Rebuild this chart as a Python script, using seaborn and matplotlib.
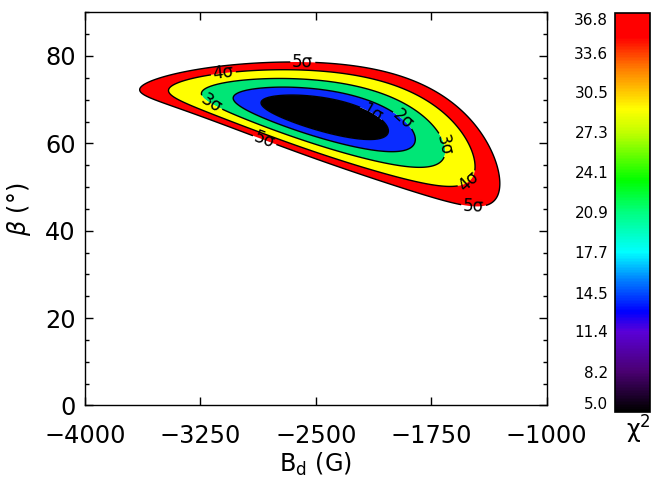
import numpy as np
import seaborn as sns
import matplotlib
matplotlib.use("Agg")
import matplotlib.pyplot as plt
from matplotlib.colors import LinearSegmentedColormap, Normalize
from matplotlib.cm import ScalarMappable
from matplotlib.ticker import MultipleLocator

sns.set_style("ticks", {"axes.edgecolor": "black", "xtick.color": "black", "ytick.color": "black",
                        "text.color": "black", "axes.labelcolor": "black"})
plt.rcParams['font.family'] = ['DejaVu Sans']
plt.rcParams['mathtext.default'] = 'regular'

# --- axes ---
bd_lim = [-4000, -1000]
beta_lim = [0, 90]
bd_ticks = [-4000, -3250, -2500, -1750, -1000]
beta_ticks = [0, 20, 40, 60, 80]

# --- chi2 levels (1..5 sigma) and fill colours ---
chi2_min = 5.0
chi2_max = 36.8
sigma_names = ['1σ', '2σ', '3σ', '4σ', '5σ']
chi2_levels = [8.9, 13.0, 19.4, 27.9, 36.8]
band_colors = ['#000000', '#0a2cff', '#00e676', '#ffff00', '#ff0000']

# colour bar
bar_ticks = [5.0, 8.2, 11.4, 14.5, 17.7, 20.9, 24.1, 27.3, 30.5, 33.6, 36.8]
bar_nodes = [0.0, 0.10, 0.20, 0.25, 0.33, 0.40, 0.50, 0.58, 0.70, 0.76, 0.86, 0.94, 1.0]
bar_colors = ['#000000', '#4a0072', '#5a00d8', '#0000ff', '#0080ff', '#00ffff', '#00ff80',
              '#00ff00', '#c0ff00', '#ffff00', '#ff8000', '#ff0000', '#ff0000']

# shape of the chi2 valley (screen-like units)
best_bd = -2440.0
best_beta = 66.4
px_per_gauss = 0.154
px_per_deg = 4.37
tilt = 13.0
half_len = 65.5
half_wid = 16.8
bend = [-4.0, -1.45, -0.95]   # t^2, t^3, t^4 terms, t = along-axis / 100
widen = 0.0026
skew = -0.03
chi2_scale = 3.916

# where the sigma labels sit
label_bd = [-2584, -2843, -1479, -3103, -1511, -3188, -1674, -1934, -2129]
label_beta = [80.3, 59.8, 43.2, 76.6, 51.6, 68.7, 59.6, 65.4, 67.6]

# chi2 surface
bd = np.linspace(bd_lim[0], bd_lim[1], 700)
beta = np.linspace(beta_lim[0], beta_lim[1], 450)
BD, BETA = np.meshgrid(bd, beta)
dx = (BD - best_bd) * px_per_gauss
dy = (BETA - best_beta) * px_per_deg
a = np.radians(tilt)
p = dx * np.cos(a) - dy * np.sin(a)
q = dx * np.sin(a) + dy * np.cos(a)
t = p / 100.0
qc = bend[0] * t**2 + bend[1] * t**3 + bend[2] * t**4
w = np.clip(1 + widen * p, 0.2, None)
v = np.clip((q - qc) / (half_wid * w), -10, 10)
v = v + skew * v**2
chi2 = chi2_min + chi2_scale * ((p / half_len)**2 + v**2)

fig = plt.figure(figsize=(6.58, 4.78), dpi=100)
ax = fig.add_axes([0.1292, 0.1517, 0.7017, 0.8226])

ax.contourf(BD, BETA, chi2, levels=[0] + chi2_levels, colors=band_colors, antialiased=True)
cs = ax.contour(BD, BETA, chi2, levels=chi2_levels, colors='black', linewidths=1.0)
ax.clabel(cs, fmt=dict(zip(chi2_levels, sigma_names)), manual=list(zip(label_bd, label_beta)),
          inline=True, inline_spacing=2, fontsize=12)

ax.set_xlim(bd_lim)
ax.set_ylim(beta_lim)
ax.set_xticks(bd_ticks)
ax.set_yticks(beta_ticks)
ax.yaxis.set_minor_locator(MultipleLocator(5))
ax.tick_params(which='both', direction='in', top=True, right=True, width=1.0)
ax.tick_params(which='major', length=5.8, labelsize=17.3)
ax.tick_params(which='minor', length=3.2)
ax.tick_params(axis='x', pad=13)
ax.tick_params(axis='y', pad=6.5)
for s in ax.spines.values():
    s.set_linewidth(1.0)
ax.set_xlabel('B$_d$ (G)', fontsize=17.3, labelpad=2)
ax.set_ylabel(r'$\mathit{\beta}$ (°)', fontsize=17.3, labelpad=9)

# colour bar
cmap = LinearSegmentedColormap.from_list('rainbow_idl', list(zip(bar_nodes, bar_colors)))
cax = fig.add_axes([0.9339, 0.1387, 0.0532, 0.8341])
sm = ScalarMappable(norm=Normalize(chi2_min, chi2_max), cmap=cmap)
cb = fig.colorbar(sm, cax=cax, ticks=bar_ticks)
cb.outline.set_linewidth(1.2)
cax.yaxis.set_ticks_position('left')
cax.tick_params(length=0, labelsize=11, pad=4.5)
cb.set_ticklabels([f'{t:.1f}' for t in bar_ticks])
labels = cax.get_yticklabels()
labels[0].set_va('bottom')
labels[-1].set_va('top')
fig.text(638 / 658, 1 - 430 / 478, r'$\chi^2$', fontsize=17, ha='center', va='center')

fig.savefig('out.png', dpi=100)
